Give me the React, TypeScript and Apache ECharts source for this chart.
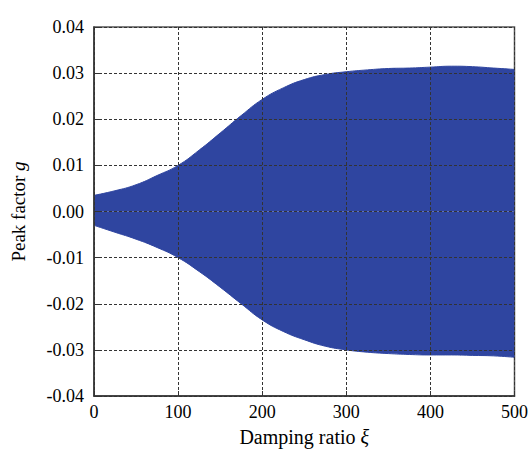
import React, { useEffect, useRef } from "react";
import * as echarts from "echarts";

const xValues = [0, 25, 50, 75, 100, 125, 150, 175, 200, 225, 250, 275, 300, 325, 350, 375, 400, 425, 450, 475, 500];
const upperEnvelope = [0.0035, 0.0045, 0.0058, 0.0078, 0.01, 0.0133, 0.017, 0.0208, 0.0243, 0.0268, 0.0286, 0.0297, 0.0303, 0.0307, 0.031, 0.0311, 0.0313, 0.0315, 0.0314, 0.0311, 0.0308];
const lowerEnvelope = [-0.003, -0.0045, -0.006, -0.0078, -0.01, -0.013, -0.0164, -0.02, -0.0235, -0.026, -0.0278, -0.0292, -0.03, -0.0305, -0.0308, -0.031, -0.0311, -0.0311, -0.0312, -0.0313, -0.0316];
const yTicks = [-0.04, -0.03, -0.02, -0.01, 0, 0.01, 0.02, 0.03, 0.04];
const xTicks = [0, 100, 200, 300, 400, 500];

const BLUE = "#2f45a0";
const FONT = "Times New Roman, Liberation Serif, DejaVu Serif, serif";

export default function App() {
  const ref = useRef<HTMLDivElement>(null);
  useEffect(() => {
    if (!ref.current) return;
    const chart = echarts.init(ref.current, null, { renderer: "svg" });
    const upper = xValues.map((x, i) => [x, upperEnvelope[i]]);
    const lower = xValues.map((x, i) => [x, lowerEnvelope[i]]);
    chart.setOption({
      animation: false,
      backgroundColor: "#fff",
      textStyle: { fontFamily: FONT, color: "#000" },
      grid: {
        left: 94,
        right: 14,
        top: 27,
        bottom: 52,
        show: true,
        borderColor: "#555",
        borderWidth: 1.5,
        containLabel: false,
      },
      xAxis: {
        type: "value",
        min: xTicks[0],
        max: xTicks[xTicks.length - 1],
        interval: 100,
        z: 3,
        name: "Damping ratio {i|ξ}",
        nameLocation: "middle",
        nameGap: 31,
        nameTextStyle: {
          fontFamily: FONT,
          fontSize: 20,
          color: "#000",
          rich: { i: { fontFamily: FONT, fontSize: 20, fontStyle: "italic", color: "#000" } },
        },
        axisLine: { show: true, onZero: false, lineStyle: { color: "#333", width: 1.5 } },
        axisTick: { show: true, inside: true, length: 5, lineStyle: { color: "#333" } },
        axisLabel: { fontFamily: FONT, fontSize: 18, color: "#000", margin: 7 },
        splitLine: { show: true, lineStyle: { color: "#333", type: [3, 2], width: 1 } },
      },
      yAxis: {
        type: "value",
        min: yTicks[0],
        max: yTicks[yTicks.length - 1],
        interval: 0.01,
        z: 3,
        name: "Peak factor {i|g}",
        nameLocation: "middle",
        nameGap: 66,
        nameTextStyle: {
          fontFamily: FONT,
          fontSize: 19,
          color: "#000",
          rich: { i: { fontFamily: FONT, fontSize: 19, fontStyle: "italic", color: "#000" } },
        },
        axisLine: { show: true, onZero: false, lineStyle: { color: "#333", width: 1.5 } },
        axisTick: { show: true, inside: true, length: 5, lineStyle: { color: "#333" } },
        axisLabel: {
          fontFamily: FONT,
          fontSize: 18,
          color: "#000",
          margin: 10,
          formatter: (v: number) => v.toFixed(2),
        },
        splitLine: { show: true, lineStyle: { color: "#333", type: [3, 2], width: 1 } },
      },
      series: [
        {
          type: "line",
          data: upper,
          smooth: true,
          showSymbol: false,
          z: 1,
          lineStyle: { color: BLUE, width: 1 },
          areaStyle: { color: BLUE, opacity: 1 },
        },
        {
          type: "line",
          data: lower,
          smooth: true,
          showSymbol: false,
          z: 1,
          lineStyle: { color: BLUE, width: 1 },
          areaStyle: { color: BLUE, opacity: 1 },
        },
      ],
    });
    return () => chart.dispose();
  }, []);
  return <div ref={ref} style={{ width: 531, height: 452, position: "absolute", left: 0, top: 0 }} />;
}
